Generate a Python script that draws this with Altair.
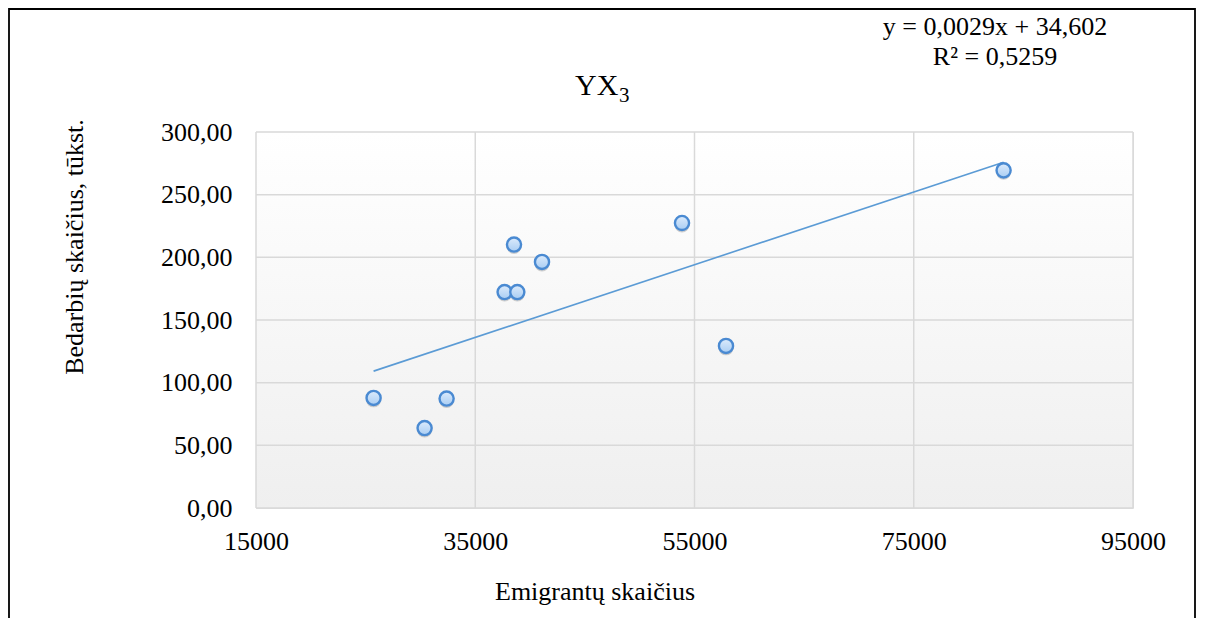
import altair as alt
import pandas as pd

# ---- data ----
emigrants = [25727, 30380, 32387, 37678, 38836, 38535, 41089, 53860, 57873, 83196]
unemployed = [87.8, 63.8, 87.3, 172.3, 172.3, 210.2, 196.3, 227.4, 129.3, 269.4]
x_ticks = [15000, 35000, 55000, 75000, 95000]
y_ticks = [0, 50, 100, 150, 200, 250, 300]
slope = 0.0029
intercept = 34.602
eq_text = "y = 0,0029x + 34,602"
r2_text = "R² = 0,5259"
title_main = "YX"
title_sub = "3"
x_title = "Emigrantų skaičius"
y_title = "Bedarbių skaičius, tūkst."

W, H = 877, 376
FONT = "Liberation Serif"
GRID = "#d9d9d9"

pts = pd.DataFrame({"emig": emigrants, "unemp": unemployed})
xmin, xmax = min(emigrants), max(emigrants)
trend = pd.DataFrame({"emig": [xmin, xmax],
                      "unemp": [slope * xmin + intercept, slope * xmax + intercept]})

xs = alt.Scale(domain=[15000, 95000], nice=False, zero=False)
ys = alt.Scale(domain=[0, 300], nice=False)

bg = alt.Chart(alt.Data(values=[{"a": 1}])).mark_rect(
    color=alt.Gradient(gradient="linear",
                       stops=[alt.GradientStop(color="#ffffff", offset=0),
                              alt.GradientStop(color="#efefef", offset=1)],
                       x1=0, x2=0, y1=0, y2=1)
).encode(x=alt.value(0), x2=alt.value(W), y=alt.value(0), y2=alt.value(H))

gx = alt.Chart(pd.DataFrame({"v": x_ticks})).mark_rule(color=GRID, strokeWidth=1.5).encode(
    x=alt.X("v:Q", scale=xs, title=None))
gy = alt.Chart(pd.DataFrame({"w": y_ticks})).mark_rule(color=GRID, strokeWidth=1.5).encode(
    y=alt.Y("w:Q", scale=ys, title=None))

line = alt.Chart(trend).mark_line(color="#5b9bd5", strokeWidth=1.6).encode(
    x=alt.X("emig:Q", scale=xs, title=None),
    y=alt.Y("unemp:Q", scale=ys, title=None))

shadow = alt.Chart(pts).mark_circle(size=220, color="#7f7f7f", opacity=0.35, yOffset=2).encode(
    x=alt.X("emig:Q", scale=xs, title=None),
    y=alt.Y("unemp:Q", scale=ys, title=None))

points = alt.Chart(pts).mark_point(
    shape="circle", size=200, filled=True, opacity=1,
    fill=alt.Gradient(gradient="linear",
                      stops=[alt.GradientStop(color="#dcebfc", offset=0),
                             alt.GradientStop(color="#a9cdf3", offset=1)],
                      x1=0, x2=0, y1=0, y2=1),
    stroke="#4a8ad2", strokeWidth=2.4
).encode(
    x=alt.X("emig:Q", scale=xs, title=None,
            axis=alt.Axis(values=x_ticks, format="d", grid=False, ticks=False, tickSize=0,
                          domain=False, labelFont=FONT, labelFontSize=26, labelColor="#000000",
                          labelBaseline="alphabetic", labelPadding=41, labelFlush=False,
                          labelOverlap=False)),
    y=alt.Y("unemp:Q", scale=ys, title=None,
            axis=alt.Axis(values=y_ticks, grid=False, ticks=False, tickSize=0, domain=False,
                          labelExpr="replace(format(datum.value, '.2f'), '.', ',')",
                          labelFont=FONT, labelFontSize=26, labelColor="#000000",
                          labelPadding=24, labelOverlap=False)),
)

def txt(s, x, y, size, align="center", baseline="alphabetic", angle=0):
    return alt.Chart(alt.Data(values=[{"t": s}])).mark_text(
        font=FONT, fontSize=size, color="#000000", align=align, baseline=baseline, angle=angle
    ).encode(text="t:N", x=alt.value(x), y=alt.value(y))

t_main = txt(title_main, 319, -37, 30, align="left")
t_sub = txt(title_sub, 363, -30, 21, align="left")
t_eq = txt(eq_text, 739, -97, 26)
t_r2 = txt(r2_text, 739, -67, 26)
t_x = txt(x_title, 339, 468, 26)
t_y = txt(y_title, -173, 115, 26, angle=270)

border = alt.Chart(alt.Data(values=[{"a": 1}])).mark_rect(
    filled=False, stroke="#000000", strokeWidth=1.8, clip=False
).encode(x=alt.value(-247), x2=alt.value(W + 62), y=alt.value(-123), y2=alt.value(H + 200))

chart = alt.layer(bg, gx, gy, line, shadow, points, t_main, t_sub, t_eq, t_r2, t_x, t_y, border).properties(
    width=W, height=H,
    autosize=alt.AutoSizeParams(type="none"),
    padding={"left": 248, "top": 124, "right": 64, "bottom": 110},
).configure_view(stroke=GRID, strokeWidth=1.5).configure(background="#ffffff")

chart.save("out.html", embed_options={"renderer": "svg", "actions": False})
